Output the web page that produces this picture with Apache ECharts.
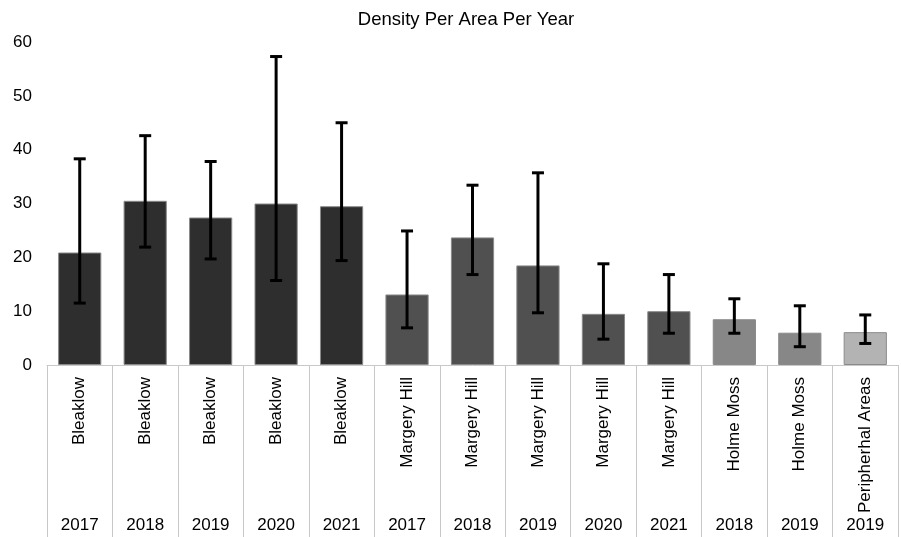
<!DOCTYPE html>
<html>
<head>
<meta charset="utf-8">
<script src="https://cdn.jsdelivr.net/npm/echarts@6/dist/echarts.min.js"></script>
<style>html,body{margin:0;padding:0;background:#fff}#c{width:901px;height:537px}</style>
</head>
<body>
<div id="c"></div>
<script>
const areas = ['Bleaklow','Bleaklow','Bleaklow','Bleaklow','Bleaklow','Margery Hill','Margery Hill','Margery Hill','Margery Hill','Margery Hill','Holme Moss','Holme Moss','Peripherhal Areas'];
const years = ['2017','2018','2019','2020','2021','2017','2018','2019','2020','2021','2018','2019','2019'];
const density = [20.9, 30.5, 27.4, 30.0, 29.5, 13.1, 23.7, 18.5, 9.5, 10.0, 8.5, 6.0, 6.1];
const errLow  = [11.5, 21.9, 19.7, 15.7, 19.4, 6.9, 16.8, 9.7, 4.8, 5.9, 5.9, 3.4, 4.0];
const errHigh = [38.3, 42.6, 37.8, 57.3, 45.0, 24.9, 33.4, 35.7, 18.8, 16.8, 12.3, 11.0, 9.3];
const yTicks = [0, 10, 20, 30, 40, 50, 60];

const areaColors = {'Bleaklow':'#2e2e2e','Margery Hill':'#505050','Holme Moss':'#878787','Peripherhal Areas':'#b3b3b3'};

const chart = echarts.init(document.getElementById('c'));
const font = 'Liberation Sans, Arial, sans-serif';
chart.setOption({
  animation: false,
  title: {
    text: 'Density Per Area Per Year', left: 461, top: 5, textAlign: 'center',
    textStyle: {fontFamily: font, fontSize: 18.5, fontWeight: 'normal', color: '#000'}
  },
  grid: {left: 47, right: 3, top: 42, bottom: 172},
  xAxis: [{
    type: 'category', data: areas, position: 'bottom',
    axisLine: {lineStyle: {color: '#c8c8c8', width: 1}},
    axisTick: {show: true, interval: 0, length: 172, lineStyle: {color: '#c8c8c8'}},
    axisLabel: {interval: 0, rotate: 90, margin: 12, fontFamily: font, fontSize: 17, color: '#000'}
  }, {
    type: 'category', data: years, position: 'bottom', offset: 144,
    axisLine: {show: false}, axisTick: {show: false},
    axisLabel: {interval: 0, margin: 8, fontFamily: font, fontSize: 17, color: '#000'}
  }],
  yAxis: {
    type: 'value', min: yTicks[0], max: yTicks[yTicks.length-1], interval: 10,
    axisLine: {show: false}, axisTick: {show: false}, splitLine: {show: false},
    axisLabel: {margin: 15, fontFamily: font, fontSize: 17, color: '#000'}
  },
  series: [{
    type: 'bar', xAxisIndex: 0, barCategoryGap: '34%',
    data: density.map((v, i) => ({value: v, itemStyle: {color: areaColors[areas[i]]}})),
    itemStyle: {borderColor: '#8a8a8a', borderWidth: 1}
  }, {
    type: 'custom', xAxisIndex: 0, z: 10,
    data: density.map((v, i) => [i, errLow[i], errHigh[i]]),
    renderItem: function (params, api) {
      const lo = api.coord([api.value(0), api.value(1)]);
      const hi = api.coord([api.value(0), api.value(2)]);
      const x = lo[0], w = 6;
      const st = {stroke: '#000', lineWidth: 3};
      return {type: 'group', children: [
        {type: 'line', shape: {x1: x, y1: hi[1], x2: x, y2: lo[1]}, style: st},
        {type: 'line', shape: {x1: x - w, y1: hi[1], x2: x + w, y2: hi[1]}, style: st},
        {type: 'line', shape: {x1: x - w, y1: lo[1], x2: x + w, y2: lo[1]}, style: st}
      ]};
    }
  }]
});
</script>
</body>
</html>
